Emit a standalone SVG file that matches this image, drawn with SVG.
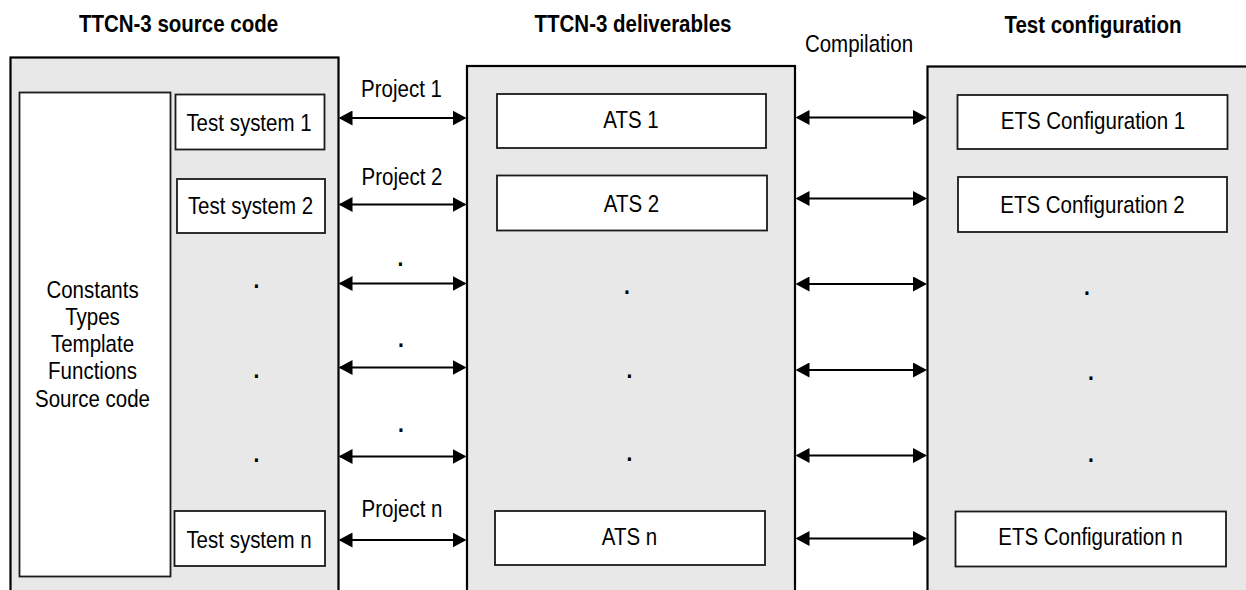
<svg xmlns="http://www.w3.org/2000/svg" width="1246" height="590" viewBox="0 0 1246 590">
<style>
.panel{fill:#e8e8e8;stroke:#000;stroke-width:2.2}
.box{fill:#fff;stroke:#1a1a1a;stroke-width:1.8}
.t{font-family:"Liberation Sans",Arial,Helvetica,sans-serif;font-size:20.5px;fill:#000;text-anchor:middle}
.h{font-family:"Liberation Sans",Arial,Helvetica,sans-serif;font-size:20.5px;font-weight:bold;fill:#000;text-anchor:middle}
.d{font-family:"Liberation Sans",Arial,Helvetica,sans-serif;font-size:21px;font-weight:bold;fill:#000;text-anchor:middle}
.c line{stroke:#000;stroke-width:2.2;marker-start:url(#ah);marker-end:url(#ah)}
</style>
<defs>
<marker id="ah" markerUnits="userSpaceOnUse" markerWidth="14" markerHeight="15" viewBox="0 0 14 15" refX="12" refY="7.5" orient="auto-start-reverse">
<path d="M0,0 L14,7.5 L0,15 z" fill="#000"/>
</marker>
</defs>
<rect width="1246" height="590" fill="#fff"/>

<g id="titles">
<text class="h" transform="translate(178.5,32) scale(1,1.15)">TTCN-3 source code</text>
<text class="h" transform="translate(633,32) scale(1,1.15)">TTCN-3 deliverables</text>
<text class="h" transform="translate(1093,33) scale(1,1.15)">Test configuration</text>
</g>

<g id="source-panel">
<rect class="panel" x="10.5" y="57.5" width="328" height="560"/>
<text class="d" transform="translate(256.5,288) scale(1,1.15)">.</text>
<text class="d" transform="translate(256.5,377.5) scale(1,1.15)">.</text>
<text class="d" transform="translate(256.5,462) scale(1,1.15)">.</text>
</g>
<g id="common-defs">
<rect class="box" x="19.5" y="92.5" width="151" height="484"/>
<text class="t" transform="translate(92.5,297.5) scale(1,1.15)">Constants</text>
<text class="t" transform="translate(92.5,324.5) scale(1,1.15)">Types</text>
<text class="t" transform="translate(92.5,352) scale(1,1.15)">Template</text>
<text class="t" transform="translate(92.5,379) scale(1,1.15)">Functions</text>
<text class="t" transform="translate(92.5,406.5) scale(1,1.15)">Source code</text>
</g>
<g id="test-system-1">
<rect class="box" x="175.5" y="94.5" width="149" height="55"/>
<text class="t" transform="translate(249,131) scale(1,1.15)">Test system 1</text>
</g>
<g id="test-system-2">
<rect class="box" x="177" y="179" width="148" height="54"/>
<text class="t" transform="translate(250.5,214) scale(1,1.15)">Test system 2</text>
</g>
<g id="test-system-n">
<rect class="box" x="174.5" y="511" width="150.5" height="55"/>
<text class="t" transform="translate(249,547.5) scale(1,1.15)">Test system n</text>
</g>

<g id="deliverables-panel">
<rect class="panel" x="467" y="66" width="328" height="560"/>
<text class="d" transform="translate(627,293.5) scale(1,1.15)">.</text>
<text class="d" transform="translate(629.5,377.5) scale(1,1.15)">.</text>
<text class="d" transform="translate(629.5,460.5) scale(1,1.15)">.</text>
</g>
<g id="ats-1">
<rect class="box" x="497" y="94" width="269" height="54"/>
<text class="t" transform="translate(631,127.5) scale(1,1.15)">ATS 1</text>
</g>
<g id="ats-2">
<rect class="box" x="497" y="175.5" width="270" height="55"/>
<text class="t" transform="translate(631.5,211.5) scale(1,1.15)">ATS 2</text>
</g>
<g id="ats-n">
<rect class="box" x="495" y="511" width="270" height="54"/>
<text class="t" transform="translate(629.5,544.5) scale(1,1.15)">ATS n</text>
</g>

<g id="config-panel">
<rect class="panel" x="927.5" y="66.5" width="340" height="560"/>
<text class="d" transform="translate(1087,294.5) scale(1,1.15)">.</text>
<text class="d" transform="translate(1091,380) scale(1,1.15)">.</text>
<text class="d" transform="translate(1091,461.5) scale(1,1.15)">.</text>
</g>
<g id="ets-1">
<rect class="box" x="957.5" y="95" width="270" height="54"/>
<text class="t" transform="translate(1093,128.5) scale(1,1.15)">ETS Configuration 1</text>
</g>
<g id="ets-2">
<rect class="box" x="958" y="177" width="269" height="55"/>
<text class="t" transform="translate(1092.5,212.5) scale(1,1.15)">ETS Configuration 2</text>
</g>
<g id="ets-n">
<rect class="box" x="955.5" y="511.5" width="270.5" height="55"/>
<text class="t" transform="translate(1090.5,544.5) scale(1,1.15)">ETS Configuration n</text>
</g>

<g id="connectors" class="c">
<line x1="340.5" y1="118" x2="464.5" y2="118"/>
<line x1="340.5" y1="204.5" x2="464.5" y2="204.5"/>
<line x1="340.5" y1="283.5" x2="464.5" y2="283.5"/>
<line x1="340.5" y1="367.5" x2="464.5" y2="367.5"/>
<line x1="340.5" y1="456.5" x2="464.5" y2="456.5"/>
<line x1="340.5" y1="540" x2="464.5" y2="540"/>
<line x1="797.5" y1="117.5" x2="925" y2="117.5"/>
<line x1="797.5" y1="198.5" x2="925" y2="198.5"/>
<line x1="797.5" y1="284" x2="925" y2="284"/>
<line x1="797.5" y1="370" x2="925" y2="370"/>
<line x1="797.5" y1="455.5" x2="925" y2="455.5"/>
<line x1="797.5" y1="538.5" x2="925" y2="538.5"/>
</g>

<g id="connector-labels">
<text class="t" transform="translate(401.5,96.5) scale(1,1.15)">Project 1</text>
<text class="t" transform="translate(402,185) scale(1,1.15)">Project 2</text>
<text class="d" transform="translate(400.5,265.5) scale(1,1.15)">.</text>
<text class="d" transform="translate(401,346.5) scale(1,1.15)">.</text>
<text class="d" transform="translate(401,432) scale(1,1.15)">.</text>
<text class="t" transform="translate(402,517) scale(1,1.15)">Project n</text>
<text class="t" transform="translate(859,51.5) scale(1,1.15)">Compilation</text>
</g>
</svg>
